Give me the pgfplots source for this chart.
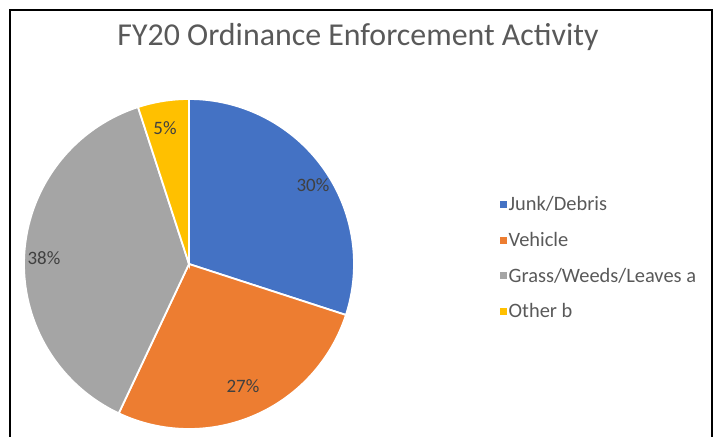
\documentclass[border=0pt]{standalone}
\usepackage{pgfplots}
\pgfplotsset{compat=1.18}
\usepackage{fontspec}
\setmainfont{Carlito}
\definecolor{cBlue}{HTML}{4472C4}
\definecolor{cOrange}{HTML}{ED7D31}
\definecolor{cGray}{HTML}{A5A5A5}
\definecolor{cGold}{HTML}{FFC000}
\definecolor{txt}{HTML}{595959}
% shares (percent)
\def\pA{30}\def\pB{27}\def\pC{38}\def\pD{5}
\begin{document}
\begin{tikzpicture}
\begin{axis}[
  at={(0,0)}, anchor=south west,
  width=718bp, height=437bp, scale only axis,
  xmin=0, xmax=718, ymin=0, ymax=437, y dir=reverse,
  hide axis, clip=false,
  legend style={at={(axis cs:497,193)}, anchor=north west, draw=none, fill=none,
    font=\fontsize{20.5}{22}\selectfont\color{txt}, row sep=17bp,
    nodes={inner sep=1.5bp}},
  legend cell align=left,
  pie/.style={draw=white, line width=1.8bp, samples=90, variable=\t,
    legend image code/.code={\fill[##1, draw=none] (-4bp,-3.5bp) rectangle (3bp,3.5bp);}},
]
\pgfmathsetmacro{\aA}{90}
\pgfmathsetmacro{\aB}{90-3.6*\pA}
\pgfmathsetmacro{\aC}{\aB-3.6*\pB}
\pgfmathsetmacro{\aD}{\aC-3.6*\pC}
\pgfmathsetmacro{\aE}{\aD-3.6*\pD}
\addplot[pie, fill=cBlue, domain=\aA:\aB] ({189+165*cos(\t)},{264-165*sin(\t)}) -- (189,264) -- cycle;
\addlegendentry{Junk/Debris}
\addplot[pie, fill=cOrange, domain=\aB:\aC] ({189+165*cos(\t)},{264-165*sin(\t)}) -- (189,264) -- cycle;
\addlegendentry{Vehicle}
\addplot[pie, fill=cGray, domain=\aC:\aD] ({189+165*cos(\t)},{264-165*sin(\t)}) -- (189,264) -- cycle;
\addlegendentry{Grass/Weeds/Leaves a}
\addplot[pie, fill=cGold, domain=\aD:\aE] ({189+165*cos(\t)},{264-165*sin(\t)}) -- (189,264) -- cycle;
\addlegendentry{Other b}
\node[font=\fontsize{32}{36}\selectfont, text=txt] at (axis cs:358,37) {FY20 Ordinance Enforcement Activity};
\node[font=\fontsize{19}{22}\selectfont, text=black!75] at (axis cs:313,185) {\pA\%};
\node[font=\fontsize{19}{22}\selectfont, text=black!75] at (axis cs:243,386) {\pB\%};
\node[font=\fontsize{19}{22}\selectfont, text=black!75] at (axis cs:44,258) {\pC\%};
\node[font=\fontsize{19}{22}\selectfont, text=black!75] at (axis cs:165,128) {\pD\%};
\draw[black, line width=2.5bp] (axis cs:10,437) -- (axis cs:10,10) -- (axis cs:712,10) -- (axis cs:712,437);
\end{axis}
\pgfresetboundingbox
\path[use as bounding box] (0,0) rectangle (718bp,437bp);
\end{tikzpicture}
\end{document}
